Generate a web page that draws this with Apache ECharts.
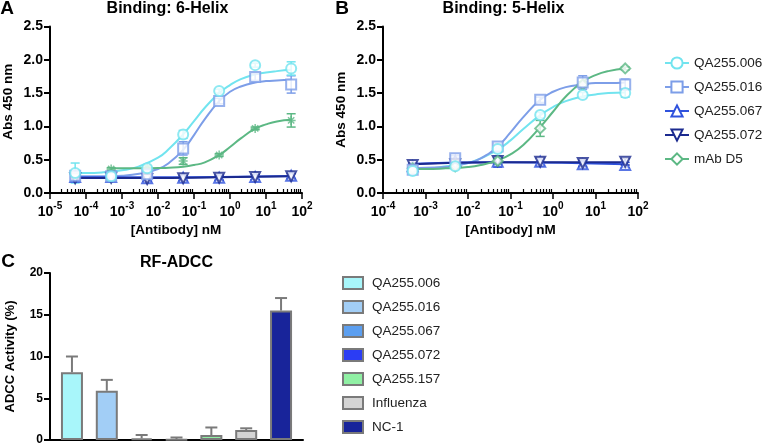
<!DOCTYPE html>
<html><head><meta charset="utf-8">
<script src="https://cdn.jsdelivr.net/npm/echarts@6/dist/echarts.min.js"></script>
<style>html,body{margin:0;padding:0;background:#fff}#c{width:763px;height:446px}</style>
</head><body><div id="c"></div>
<script>
// ---------- DATA ----------
const bindNames = ['QA255.006','QA255.016','QA255.067','QA255.072','mAb D5'];
const expA = [-5,-4,-3,-2,-1,0,1,2];
const expB = [-4,-3,-2,-1,0,1,2];

// Panel A measured points (Abs 450 nm)
const concA = [5e-5,5e-4,5e-3,5e-2,5e-1,5,50];
const ptsA_006 = [0.30,0.25,0.37,0.88,1.53,1.92,1.87];
const errA_006 = [0.15,0.03,0.03,0.06,0.03,0.03,0.10];
const ptsA_016 = [0.26,0.25,0.28,0.67,1.38,1.74,1.63];
const errA_016 = [0.05,0.03,0.04,0.10,0.04,0.05,0.13];
const ptsA_067 = [0.24,0.24,0.22,0.23,0.23,0.24,0.26];
const errA_067 = [0.04,0.03,0.04,0.04,0.04,0.04,0.04];
const ptsA_072 = [0.22,0.23,0.21,0.22,0.23,0.24,0.25];
const errA_072 = [0.04,0.03,0.04,0.04,0.04,0.04,0.04];
const concA_D5 = [5e-4,5e-3,5e-2,5e-1,5,50];
const ptsA_D5 = [0.36,0.38,0.48,0.57,0.97,1.09];
const errA_D5 = [0.02,0.02,0.05,0.02,0.02,0.10];

// Panel A fitted curves
const fitXA = [5e-5,1e-4,3e-4,1e-3,3e-3,1e-2,2e-2,5e-2,0.1,0.2,0.5,1,2,5,10,20,50];
const fitA_006 = [0.30,0.30,0.31,0.34,0.40,0.53,0.66,0.88,1.08,1.28,1.50,1.62,1.71,1.78,1.81,1.83,1.85];
const fitA_016 = [0.25,0.25,0.25,0.26,0.29,0.36,0.45,0.65,0.87,1.11,1.38,1.52,1.60,1.66,1.68,1.69,1.70];
const fitXA_D5 = [5e-4,1e-3,3e-3,1e-2,2e-2,5e-2,0.1,0.2,0.5,1,2,5,10,20,50];
const fitA_D5 = [0.37,0.37,0.37,0.375,0.38,0.395,0.42,0.46,0.57,0.69,0.82,0.965,1.03,1.075,1.10];
const fitXA_flat = [5e-5,5e-3,0.5,50];
const fitA_067 = [0.235,0.235,0.24,0.255];
const fitA_072 = [0.225,0.225,0.235,0.25];

// Panel B measured points
const concB = [5e-4,5e-3,5e-2,5e-1,5,50];
const ptsB_006 = [0.33,0.40,0.66,1.17,1.47,1.50];
const errB_006 = [0.03,0.03,0.05,0.04,0.04,0.06];
const ptsB_016 = [0.35,0.52,0.70,1.40,1.66,1.63];
const errB_016 = [0.03,0.04,0.04,0.04,0.10,0.08];
const ptsB_067 = [0.40,0.48,0.47,0.47,0.43,0.42];
const errB_067 = [0.03,0.04,0.08,0.06,0.05,0.04];
const ptsB_072 = [0.42,0.43,0.48,0.47,0.45,0.47];
const errB_072 = [0.03,0.03,0.05,0.06,0.05,0.05];
const ptsB_D5 = [0.37,0.40,0.48,0.97,1.63,1.87];
const errB_D5 = [0.02,0.03,0.04,0.12,0.04,0.02];

// Panel B fitted curves
const fitXB = [5e-4,1e-3,3e-3,1e-2,2e-2,5e-2,0.1,0.2,0.5,1,2,5,10,20,50];
const fitB_006 = [0.37,0.37,0.40,0.45,0.52,0.65,0.79,0.96,1.17,1.29,1.38,1.45,1.48,1.50,1.51];
const fitB_016 = [0.37,0.38,0.39,0.45,0.52,0.70,0.91,1.14,1.40,1.52,1.59,1.63,1.65,1.65,1.66];
const fitB_D5 = [0.36,0.36,0.37,0.39,0.42,0.49,0.58,0.72,0.99,1.22,1.45,1.67,1.77,1.83,1.87];
const fitXB_flat = [5e-4,5e-2,50];
const fitB_067 = [0.44,0.46,0.43];
const fitB_072 = [0.43,0.46,0.46];

// Panel C: RF-ADCC
const adccCats = ['QA255.006','QA255.016','QA255.067','QA255.072','QA255.157','Influenza','NC-1'];
const adccVals = [8.1,5.9,0.2,0.05,0.6,1.2,15.5];
const adccErr  = [1.9,1.3,0.4,0.25,0.9,0.2,1.5];

// ---------- STYLE ----------
const FONT = 'Liberation Sans, Arial, Helvetica, sans-serif';
const col = {'QA255.006':'#72e4ef','QA255.016':'#7d9ee8','QA255.067':'#2f52dd','QA255.072':'#1b2a8f','mAb D5':'#5cb884'};
const sym = {'QA255.006':['emptyCircle',0],'QA255.016':['emptyRect',0],'QA255.067':['emptyTriangle',0],'QA255.072':['emptyTriangle',180],'mAb D5':['emptyDiamond',0]};
const ASTER = 'path://M5 0L5 10M0 5L10 5M1.5 1.5L8.5 8.5M8.5 1.5L1.5 8.5';
const barCol = ['#a8f6fa','#a2cef6','#5c9ff0','#2b3df4','#90f0a4','#d4d4d4','#18249a'];
const barBorder = '#7a7a7a';

function zip(xs, ys){ return xs.map((x,i)=>[x, ys[i]]).filter(p=>p[1]!=null); }
function errData(xs, ys, es){ return xs.map((x,i)=>[x, ys[i]-es[i], ys[i]+es[i]]); }
function minorTicks(exps){ const out=[]; for(let k=0;k<exps.length-1;k++){ for(let m=2;m<=9;m++){ out.push(m*Math.pow(10,exps[k])); } } return out; }

function errRender(color, capHalf, upperOnly){
  return function(params, api){
    const x = api.value(0), lo = api.value(1), hi = api.value(2);
    const p1 = api.coord([x, lo]), p2 = api.coord([x, hi]);
    const st = {stroke: color, lineWidth: upperOnly ? 2 : 1.5};
    const ch = [
      {type:'line', shape:{x1:p1[0],y1:p1[1],x2:p2[0],y2:p2[1]}, style:st},
      {type:'line', shape:{x1:p2[0]-capHalf,y1:p2[1],x2:p2[0]+capHalf,y2:p2[1]}, style:st}
    ];
    if(!upperOnly) ch.push({type:'line', shape:{x1:p1[0]-capHalf,y1:p1[1],x2:p1[0]+capHalf,y2:p1[1]}, style:st});
    return {type:'group', children: ch};
  };
}

const series = [];
function addLine(name, xi, yi, xs, ys, symbolOverride){
  const s = symbolOverride || sym[name];
  series.push({type:'line', name, xAxisIndex:xi, yAxisIndex:yi, data:zip(xs,ys),
    smooth:0.5, showSymbol:false, symbol:s[0], symbolRotate:s[1], symbolSize:9,
    lineStyle:{color:col[name], width:2}, itemStyle:{color:col[name]}, z:2, silent:true});
}
function addPts(name, xi, yi, xs, ys, es, symbolOverride){
  const s = symbolOverride || sym[name];
  series.push({type:'custom', xAxisIndex:xi, yAxisIndex:yi, renderItem:errRender(col[name],4.5,false),
    data:errData(xs,ys,es), encode:{x:0,y:[1,2]}, z:3, silent:true});
  series.push({type:'scatter', name, xAxisIndex:xi, yAxisIndex:yi, data:zip(xs,ys),
    symbol:s[0], symbolRotate:s[1], symbolSize:s[0]===ASTER?9:10,
    itemStyle:{color:col[name], borderColor:col[name], borderWidth:1.5}, z:4, silent:true});
}

// Panel B first (legend icons come from these)
addLine('QA255.006',2,1,fitXB,fitB_006);
addLine('QA255.016',2,1,fitXB,fitB_016);
addLine('QA255.067',2,1,fitXB_flat,fitB_067);
addLine('QA255.072',2,1,fitXB_flat,fitB_072);
addLine('mAb D5',2,1,fitXB,fitB_D5);
// Panel A
addLine('QA255.006',0,0,fitXA,fitA_006);
addLine('QA255.016',0,0,fitXA,fitA_016);
addLine('QA255.067',0,0,fitXA_flat,fitA_067);
addLine('QA255.072',0,0,fitXA_flat,fitA_072);
addLine('mAb D5',0,0,fitXA_D5,fitA_D5,[ASTER,0]);
addPts('QA255.067',0,0,concA,ptsA_067,errA_067);
addPts('QA255.072',0,0,concA,ptsA_072,errA_072);
addPts('mAb D5',0,0,concA_D5,ptsA_D5,errA_D5,[ASTER,0]);
addPts('QA255.016',0,0,concA,ptsA_016,errA_016);
addPts('QA255.006',0,0,concA,ptsA_006,errA_006);
addPts('QA255.067',2,1,concB,ptsB_067,errB_067);
addPts('QA255.072',2,1,concB,ptsB_072,errB_072);
addPts('mAb D5',2,1,concB,ptsB_D5,errB_D5);
addPts('QA255.016',2,1,concB,ptsB_016,errB_016);
addPts('QA255.006',2,1,concB,ptsB_006,errB_006);

// Panel C bars
adccCats.forEach((c,i)=>{
  series.push({type:'bar', name:'C|'+c, xAxisIndex:4, yAxisIndex:2, data:[[i, adccVals[i]]],
    barWidth:22, barGap:'-100%', itemStyle:{color:barCol[i], borderColor:barBorder, borderWidth:2}, z:2, silent:true});
});
series.push({type:'custom', xAxisIndex:4, yAxisIndex:2, renderItem:errRender(barBorder,6,true),
  data:adccVals.map((v,i)=>[i, v, v+adccErr[i]]), encode:{x:0,y:[1,2]}, z:1, silent:true});

// ---------- AXES ----------
const tickLabel = {color:'#000', fontFamily:FONT, fontWeight:'bold'};
function logMajor(grid, exps){
  return {type:'log', gridIndex:grid, logBase:10, min:Number('1e'+exps[0]), max:Number('1e'+exps[exps.length-1]),
    axisLine:{show:true, onZero:false, lineStyle:{color:'#000', width:2}},
    axisTick:{show:true, length:6, lineStyle:{color:'#000', width:1.5}, customValues:exps.map(e=>Number('1e'+e))},
    axisLabel:{show:true, margin:8, customValues:exps.map(e=>Number('1e'+e)),
      formatter:(v)=>'{b|10}{s|'+Math.round(Math.log10(v))+'}',
      rich:{b:{fontSize:14, fontWeight:'bold', fontFamily:FONT, color:'#000', verticalAlign:'bottom', lineHeight:18},
            s:{fontSize:10, fontWeight:'bold', fontFamily:FONT, color:'#000', verticalAlign:'top', lineHeight:18}}},
    splitLine:{show:false},
    name:'[Antibody] nM', nameLocation:'middle', nameGap:30,
    nameTextStyle:{fontSize:13.5, fontWeight:'bold', color:'#000', fontFamily:FONT}};
}
function logMinor(grid, exps){
  return {type:'log', gridIndex:grid, logBase:10, min:Number('1e'+exps[0]), max:Number('1e'+exps[exps.length-1]),
    axisLine:{show:false}, axisLabel:{show:false}, splitLine:{show:false},
    axisTick:{show:true, length:4, lineStyle:{color:'#000', width:1.2}, customValues:minorTicks(exps)}};
}
function absY(grid, pad){
  return {type:'value', gridIndex:grid, min:0, max:2.5, interval:0.5,
    axisLine:{show:true, onZero:false, lineStyle:{color:'#000', width:2}},
    axisTick:{show:true, length:6, lineStyle:{color:'#000', width:2}},
    axisLabel:Object.assign({fontSize:14, margin:7, formatter:(v)=>v.toFixed(1)}, tickLabel),
    splitLine:{show:false},
    name:'Abs 450 nm', nameLocation:'middle', nameGap:35,
    nameTextStyle:{fontSize:13.5, fontWeight:'bold', color:'#000', fontFamily:FONT, padding:pad}};
}

const option = {
  animation:false,
  backgroundColor:'#fff',
  textStyle:{fontFamily:FONT},
  grid:[
    {left:50, top:26.5, width:252, height:166.5},
    {left:383, top:26.5, width:255, height:166.5},
    {left:50, top:273, width:253, height:168}
  ],
  xAxis:[
    logMajor(0, expA), logMinor(0, expA),
    logMajor(1, expB), logMinor(1, expB),
    {type:'value', gridIndex:2, min:-0.63, max:6.63,
     axisLine:{show:true, onZero:false, lineStyle:{color:'#000', width:2}}, axisTick:{show:false}, axisLabel:{show:false}, splitLine:{show:false}}
  ],
  yAxis:[
    absY(0,[0,0,0,16]), absY(1,[0,0,0,0]),
    {type:'value', gridIndex:2, min:0, max:20, interval:5,
     axisLine:{show:true, onZero:false, lineStyle:{color:'#000', width:2}},
     axisTick:{show:true, length:6, lineStyle:{color:'#000', width:2}},
     axisLabel:Object.assign({fontSize:12, margin:7}, tickLabel),
     splitLine:{show:false},
     name:'ADCC Activity (%)', nameLocation:'middle', nameGap:33,
     nameTextStyle:{fontSize:13, fontWeight:'bold', color:'#000', fontFamily:FONT}}
  ],
  legend:[
    {data:bindNames, orient:'vertical', left:664, top:56, padding:0, itemWidth:24, itemHeight:14, itemGap:10,
     textStyle:{fontSize:13.5, color:'#222', fontFamily:FONT}, selectedMode:false},
    {data:adccCats.map(c=>'C|'+c), orient:'vertical', left:342, top:276, padding:0, itemWidth:20, itemHeight:12, itemGap:10,
     icon:'rect', formatter:(n)=>n.slice(2),
     textStyle:{fontSize:13.5, color:'#222', fontFamily:FONT, padding:[0,0,0,4]}, selectedMode:false}
  ],
  graphic:[
    {type:'text', x:7, y:9, style:{text:'A', font:'bold 19px '+FONT, fill:'#000', align:'center', verticalAlign:'middle'}},
    {type:'text', x:342, y:9, style:{text:'B', font:'bold 19px '+FONT, fill:'#000', align:'center', verticalAlign:'middle'}},
    {type:'text', x:8, y:262, style:{text:'C', font:'bold 19px '+FONT, fill:'#000', align:'center', verticalAlign:'middle'}},
    {type:'text', x:167.5, y:9, style:{text:'Binding: 6-Helix', font:'bold 16px '+FONT, fill:'#000', align:'center', verticalAlign:'middle'}},
    {type:'text', x:503.5, y:9, style:{text:'Binding: 5-Helix', font:'bold 16px '+FONT, fill:'#000', align:'center', verticalAlign:'middle'}},
    {type:'text', x:176.5, y:263, style:{text:'RF-ADCC', font:'bold 16px '+FONT, fill:'#000', align:'center', verticalAlign:'middle'}}
  ],
  series: series
};
const chart = echarts.init(document.getElementById('c'), null, {renderer:'canvas'});
chart.setOption(option);
</script>
</body></html>
